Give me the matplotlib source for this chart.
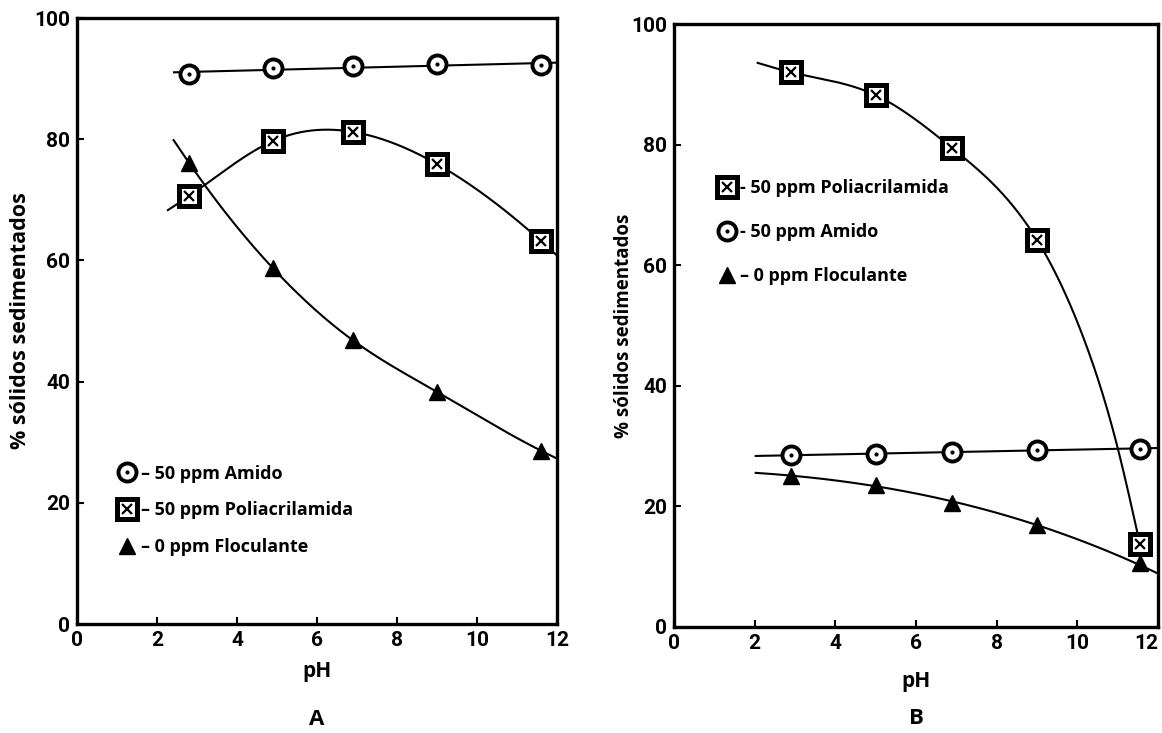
import numpy as np
import matplotlib
matplotlib.use("Agg")
import matplotlib.pyplot as plt
from matplotlib import font_manager
from matplotlib.legend_handler import HandlerTuple

# ---- data -------------------------------------------------------------
ph_a = [2.8, 4.9, 6.9, 9.0, 11.6]
amido_a = [90.8, 91.7, 92.1, 92.4, 92.2]
poli_a = [70.6, 79.7, 81.2, 75.9, 63.2]
floc_a = [76.1, 58.7, 46.8, 38.3, 28.6]

ph_b = [2.9, 5.0, 6.9, 9.0, 11.55]
poli_b = [92.0, 88.2, 79.4, 64.2, 13.8]
amido_b = [28.6, 28.7, 29.0, 29.3, 29.5]
floc_b = [25.0, 23.6, 20.6, 16.9, 10.6]

# shape of the hand-drawn trend curves: extra (pH, value) nodes outside / between the points
trend_a = {
    "amido": [(2.4, 90.9), (12.0, 92.6)],
    "poli": [(2.25, 68.2), (12.0, 60.8)],
    "floc": [(2.4, 80.0), (12.0, 27.3)],
}
trend_b = {
    "poli": [(2.05, 93.6), (10.2, 47.1), (11.0, 29.7)],
    "amido": [(2.0, 28.3), (12.0, 29.8)],
    "floc": [(2.0, 25.6), (12.0, 8.6)],
}

x_ticks = [0, 2, 4, 6, 8, 10, 12]
y_ticks = [0, 20, 40, 60, 80, 100]

# ---- fonts ------------------------------------------------------------
available = {f.name for f in font_manager.fontManager.ttflist}
tick_family = ["Liberation Sans Narrow"] if "Liberation Sans Narrow" in available else ["Roboto"]
text_family = ["Open Sans", "DejaVu Sans"]


def natural_spline(xk, yk, xs):
    n = len(xk)
    h = np.diff(xk)
    A = np.zeros((n, n))
    r = np.zeros(n)
    A[0, 0] = A[-1, -1] = 1.0
    for i in range(1, n - 1):
        A[i, i - 1] = h[i - 1]
        A[i, i] = 2 * (h[i - 1] + h[i])
        A[i, i + 1] = h[i]
        r[i] = 6 * ((yk[i + 1] - yk[i]) / h[i] - (yk[i] - yk[i - 1]) / h[i - 1])
    M = np.linalg.solve(A, r)
    idx = np.clip(np.searchsorted(xk, xs) - 1, 0, n - 2)
    x0, x1 = xk[idx], xk[idx + 1]
    hh = x1 - x0
    t0, t1 = x1 - xs, xs - x0
    return (M[idx] * t0 ** 3 / (6 * hh) + M[idx + 1] * t1 ** 3 / (6 * hh)
            + (yk[idx] / hh - M[idx] * hh / 6) * t0
            + (yk[idx + 1] / hh - M[idx + 1] * hh / 6) * t1)


def trend(ax, xs, ys, nodes, kind="spline", lw=1.5):
    pts = sorted(list(zip(xs, ys)) + list(nodes))
    px = np.array([p[0] for p in pts], float)
    py = np.array([p[1] for p in pts], float)
    grid = np.linspace(px[0], px[-1], 500)
    if kind == "line":
        gy = np.polyval(np.polyfit(px, py, 1), grid)
    elif kind == "poly":
        gy = np.polyval(np.polyfit(px, py, 3), grid)
    else:
        gy = natural_spline(px, py, grid)
    ax.plot(grid, gy, color="black", lw=lw, solid_capstyle="butt", zorder=2, clip_on=False)


def circle_markers(ax, xs, ys, ms=13):
    h1 = ax.plot(xs, ys, ls="none", marker="o", ms=ms, mfc="white", mec="black",
                 mew=2.8, zorder=4, clip_on=False)[0]
    h2 = ax.plot(xs, ys, ls="none", marker="o", ms=3, mfc="black", mec="black",
                 mew=0, zorder=5, clip_on=False)[0]
    return (h1, h2)


def square_markers(ax, xs, ys, ms=14):
    h1 = ax.plot(xs, ys, ls="none", marker="s", ms=ms, mfc="white", mec="black",
                 mew=3.6, zorder=4, clip_on=False)[0]
    h2 = ax.plot(xs, ys, ls="none", marker="x", ms=ms * 0.5, mec="black",
                 mew=1.6, zorder=5, clip_on=False)[0]
    return (h1, h2)


def triangle_markers(ax, xs, ys, ms=12):
    h = ax.plot(xs, ys, ls="none", marker="^", ms=ms, mfc="black", mec="black",
                mew=1, zorder=4, clip_on=False)[0]
    return (h,)


def style_axes(ax, ylabel_size, ylabel_pad, xlabel_pad):
    ax.set_xlim(0, 12)
    ax.set_ylim(0, 100)
    ax.set_xticks(x_ticks)
    ax.set_yticks(y_ticks)
    for s in ax.spines.values():
        s.set_linewidth(2.4)
    ax.tick_params(direction="in", length=5, width=1.5, pad=5)
    for lab in ax.get_xticklabels() + ax.get_yticklabels():
        lab.set_family(tick_family)
        lab.set_fontsize(15)
        lab.set_fontweight("bold")
    ax.set_xlabel("pH", family=text_family, fontsize=15, fontweight="bold", labelpad=xlabel_pad)
    ax.set_ylabel("% sólidos sedimentados", family=text_family, fontsize=ylabel_size,
                  fontweight="bold", labelpad=ylabel_pad)


legend_kw = dict(loc="upper left", frameon=False, handlelength=1.0, handletextpad=0.25,
                 prop={"family": text_family, "weight": "bold", "size": 13},
                 handler_map={tuple: HandlerTuple(ndivide=1)})

fig = plt.figure(figsize=(11.62, 7.33), dpi=100)
fig.patch.set_facecolor("white")

ax_a = fig.add_axes([77 / 1162, 1 - 624 / 733, 480 / 1162, 606 / 733])
ax_b = fig.add_axes([674 / 1162, 1 - 627 / 733, 484 / 1162, 603 / 733])

# ---- panel A ----------------------------------------------------------
trend(ax_a, ph_a, amido_a, trend_a["amido"], kind="line")
trend(ax_a, ph_a, poli_a, trend_a["poli"])
trend(ax_a, ph_a, floc_a, trend_a["floc"])
hc = circle_markers(ax_a, ph_a, amido_a)
hs = square_markers(ax_a, ph_a, poli_a)
ht = triangle_markers(ax_a, ph_a, floc_a)
style_axes(ax_a, 15.5, 2, 8)
ax_a.legend([hc, hs, ht],
            ["– 50 ppm Amido", "– 50 ppm Poliacrilamida", "– 0 ppm Floculante"],
            bbox_to_anchor=(0.052, 0.29), labelspacing=1.05, **legend_kw)
ax_a.text(0.5, -0.14, "A", transform=ax_a.transAxes, ha="center", va="top",
          family=text_family, fontsize=16, fontweight="bold")

# ---- panel B ----------------------------------------------------------
trend(ax_b, ph_b, poli_b, trend_b["poli"])
trend(ax_b, ph_b, amido_b, trend_b["amido"], kind="line")
trend(ax_b, ph_b, floc_b, trend_b["floc"], kind="poly")
hs_b = square_markers(ax_b, ph_b, poli_b)
hc_b = circle_markers(ax_b, ph_b, amido_b)
ht_b = triangle_markers(ax_b, ph_b, floc_b)
style_axes(ax_b, 13.5, -2, 13)
ax_b.get_xticklabels()[-1].set_horizontalalignment("right")
ax_b.legend([hs_b, hc_b, ht_b],
            ["- 50 ppm Poliacrilamida", "- 50 ppm Amido", "– 0 ppm Floculante"],
            bbox_to_anchor=(0.057, 0.77), labelspacing=1.45, **legend_kw)
ax_b.text(0.5, -0.135, "B", transform=ax_b.transAxes, ha="center", va="top",
          family=text_family, fontsize=16, fontweight="bold")

fig.savefig("out.png", dpi=100, facecolor="white")
